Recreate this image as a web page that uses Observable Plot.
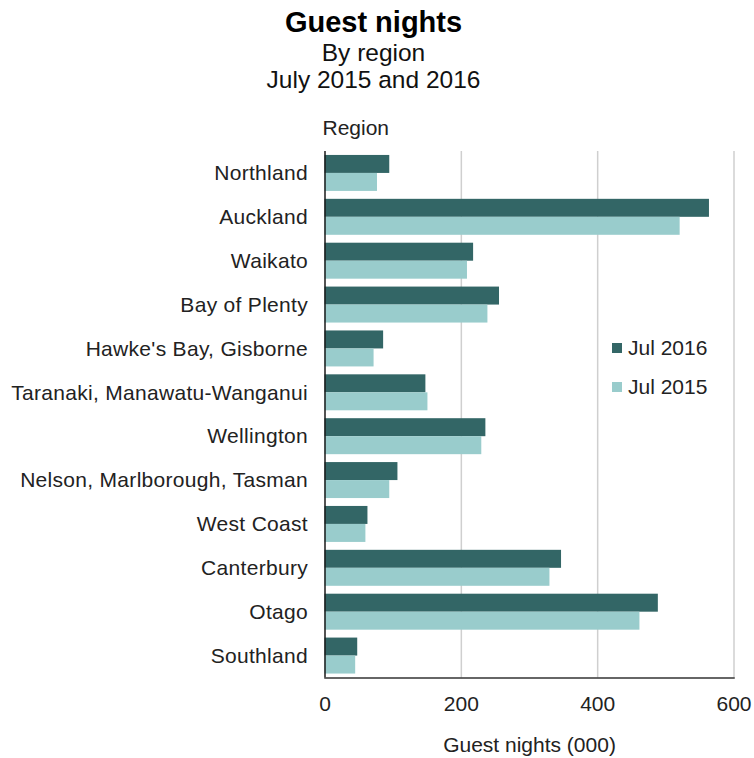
<!DOCTYPE html>
<html>
<head>
<meta charset="utf-8">
<script src="https://cdn.jsdelivr.net/npm/d3@7"></script>
<script src="https://cdn.jsdelivr.net/npm/@observablehq/plot@0.6"></script>
<style>
  html, body { margin: 0; padding: 0; background: #fff; }
  #wrap { position: relative; width: 754px; height: 758px; font-family: "Liberation Sans", Arial, sans-serif; color: #1a1a1a; }
  .hdr { position: absolute; left: 0; width: 747px; text-align: center; white-space: nowrap; }
  #chart { position: absolute; left: 0; top: 110px; }
  #chart svg g[aria-label="y-axis tick label"] text { letter-spacing: 0.3px; }
  #legend { position: absolute; left: 612px; top: 328px; font-size: 21px; color: #222; }
  #legend .item { display: flex; align-items: center; height: 39px; }
  #legend .sw { width: 10px; height: 10px; margin-right: 6px; }
</style>
</head>
<body>
<div id="wrap">
  <div class="hdr" style="top:0;height:44px;line-height:44px;font-size:29px;font-weight:bold;color:#000;">Guest nights</div>
  <div class="hdr" style="top:38px;height:30px;line-height:30px;font-size:24.5px;color:#111;">By region</div>
  <div class="hdr" style="top:65px;height:30px;line-height:30px;font-size:24.5px;color:#111;">July 2015 and 2016</div>
  <div id="chart"></div>
  <div id="legend"></div>
</div>
<script>
// ---- data ----
const regions = [
  "Northland", "Auckland", "Waikato", "Bay of Plenty", "Hawke's Bay, Gisborne",
  "Taranaki, Manawatu-Wanganui", "Wellington", "Nelson, Marlborough, Tasman",
  "West Coast", "Canterbury", "Otago", "Southland"
];
const jul2016 = [95, 564, 218, 256, 86, 148, 236, 107, 63, 347, 489, 48];
const jul2015 = [77, 521, 209, 239, 72, 151, 230, 95, 60, 330, 462, 45];
const seriesNames = ["Jul 2016", "Jul 2015"];
const seriesColors = ["#336666", "#99cccc"];
const xTicks = [0, 200, 400, 600];
const gridTicks = [200, 400, 600];
const xLabel = "Guest nights (000)";
const yLabel = "Region";

const rows = regions.map((r, i) => ({region: r, v2016: jul2016[i], v2015: jul2015[i]}));

// ---- layout ----
const W = 754, H = 648;
const mt = 41, mb = 80.5, ml = 324.5, mr = 20.5;
const padInner = 0.18;
const step = (H - mt - mb) / regions.length;
const half = step * (1 - padInner) / 2;

const plot = Plot.plot({
  width: W,
  height: H,
  marginTop: mt,
  marginBottom: mb,
  marginLeft: ml,
  marginRight: mr,
  style: {fontFamily: "Liberation Sans, Arial, sans-serif", fontSize: "21px", color: "#222", background: "#fff"},
  x: {domain: [0, 600], round: false},
  y: {domain: regions, paddingInner: padInner, paddingOuter: padInner / 2, round: false},
  marks: [
    Plot.gridX(gridTicks, {stroke: "#cfcfcf", strokeOpacity: 1, strokeWidth: 1.5}),
    Plot.barX(rows, {y: "region", x: "v2016", fill: seriesColors[0], insetBottom: half}),
    Plot.barX(rows, {y: "region", x: "v2015", fill: seriesColors[1], insetTop: half}),
    Plot.ruleX([0], {stroke: "#1a1a1a", strokeWidth: 1.5}),
    Plot.frame({anchor: "bottom", stroke: "#333", strokeWidth: 1.5}),
    Plot.axisX(xTicks, {tickSize: 0, tickPadding: 18, label: null}),
    Plot.axisY({tickSize: 0, tickPadding: 17, label: null}),
    Plot.text([yLabel], {frameAnchor: "top-left", textAnchor: "start", dx: -2.5, dy: -23, lineAnchor: "middle"}),
    Plot.text([xLabel], {frameAnchor: "bottom", dy: 67.5, lineAnchor: "middle"})
  ]
});
document.getElementById("chart").appendChild(plot);

const legend = document.getElementById("legend");
seriesNames.forEach((name, i) => {
  const item = document.createElement("div");
  item.className = "item";
  const sw = document.createElement("div");
  sw.className = "sw";
  sw.style.background = seriesColors[i];
  const lab = document.createElement("span");
  lab.textContent = name;
  item.appendChild(sw);
  item.appendChild(lab);
  legend.appendChild(item);
});
</script>
</body>
</html>
